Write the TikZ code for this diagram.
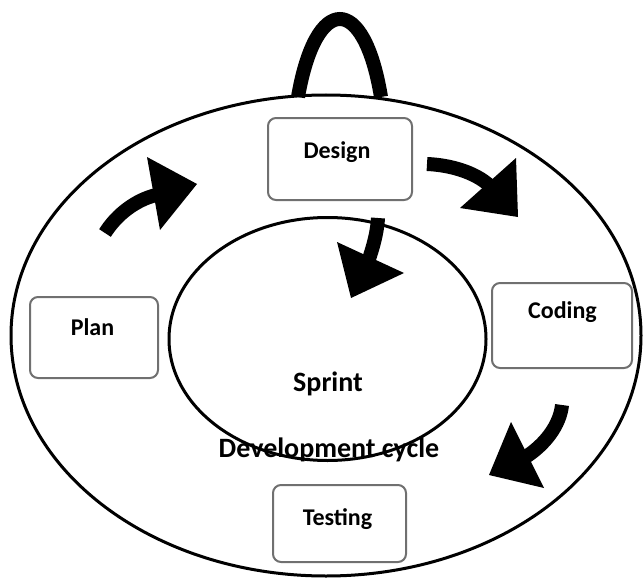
\documentclass[tikz,border=0pt]{standalone}
\usepackage{fontspec}
\setmainfont{Carlito}
\usetikzlibrary{shapes.geometric}
\definecolor{boxgray}{RGB}{112,112,112}
\begin{document}
\begin{tikzpicture}[x=1pt,y=-1pt,
  ring/.style={draw=black, line width=3pt, ellipse, inner sep=0pt, fill=none},
  box/.style={draw=boxgray, line width=2pt, rounded corners=8pt, fill=white, inner sep=0pt},
  lbl/.style={font=\fontsize{24}{28}\selectfont\bfseries, anchor=base, inner sep=0pt},
  big/.style={font=\fontsize{28}{32}\selectfont\bfseries, anchor=base, inner sep=0pt},
  shaft/.style={line width=14pt, line cap=butt},
  head/.style={fill=black}]
\useasboundingbox (0,0) rectangle (643,578);
% ellipses
\node[ring, minimum width=630pt, minimum height=481pt] (outer) at (326,335.5) {};
\node[ring, minimum width=317pt, minimum height=243pt] (inner) at (327.5,339) {};
% loop on top
\draw[line width=14pt] (298,97) .. controls (316,-7) and (364,-7) .. (381,97);
% boxes
\node[box, minimum width=144pt, minimum height=82pt] (design) at (340,159) {};
\node[box, minimum width=128pt, minimum height=81pt] (plan) at (94,337.5) {};
\node[box, minimum width=140pt, minimum height=85pt] (coding) at (562,325.5) {};
\node[box, minimum width=133pt, minimum height=77pt] (testing) at (339.5,523.5) {};
% labels
\node[lbl] (designT) at (337,158) {Design};
\node[lbl] (planT) at (92.5,335) {Plan};
\node[lbl] (codingT) at (562.5,318) {Coding};
\node[lbl] (testingT) at (337.5,525) {Testing};
\node[big] (sprintT) at (328,391) {Sprint};
\node[big] (devT) at (329,457) {Development cycle};
% arrow plan -> design
\draw[shaft] (105,233) .. controls (117,214) and (136,200) .. (156,195);
\fill[head] (147,157) -- (197,184) -- (160,230) -- cycle;
% arrow design -> coding
\draw[shaft] (427,164) .. controls (450,165) and (475,172) .. (490,186);
\fill[head] (516,158) -- (518,217) -- (460,208) -- cycle;
% arrow design -> sprint
\draw[shaft] (378,218) .. controls (377,235) and (372,250) .. (368,262);
\fill[head] (337,242) -- (404,273) -- (351,298) -- cycle;
% arrow coding -> testing
\draw[shaft] (562,405) .. controls (560,425) and (545,445) .. (524,458);
\fill[head] (511,422) -- (544,488) -- (489,475) -- cycle;
\end{tikzpicture}
\end{document}
